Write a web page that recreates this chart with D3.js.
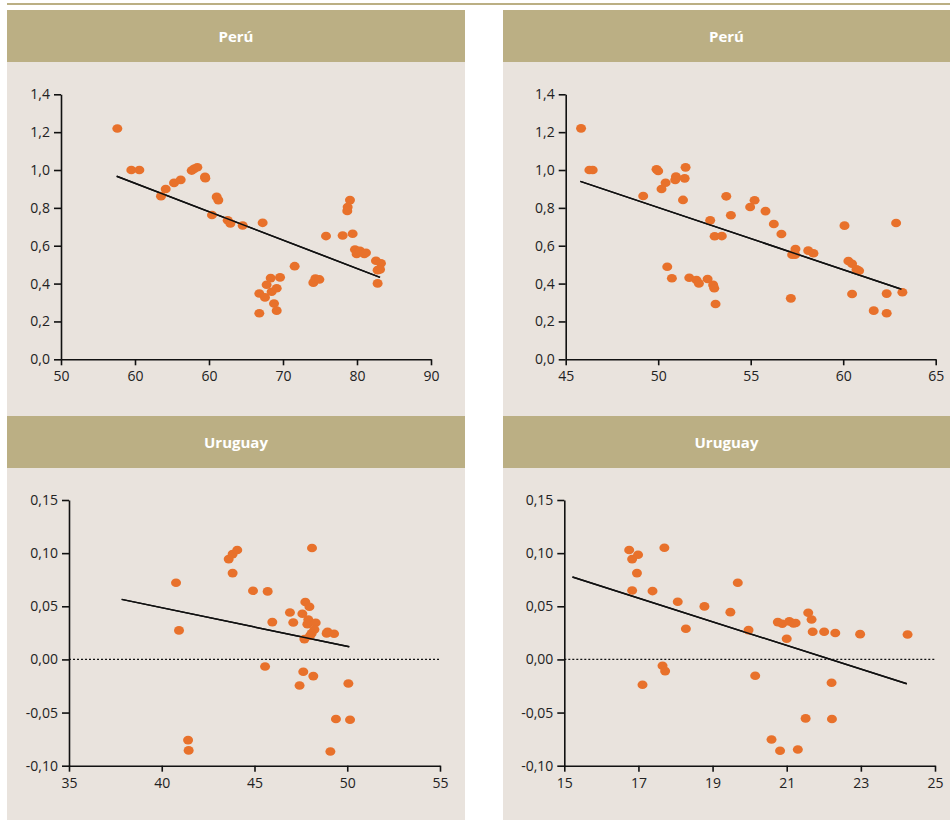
<!DOCTYPE html>
<html>
<head>
<meta charset="utf-8">
<script src="https://cdn.jsdelivr.net/npm/d3@7"></script>
<style>
  html, body { margin: 0; padding: 0; background: #ffffff; }
  svg { display: block; }
  .tick text { font-family: "Open Sans", "Noto Sans", sans-serif; font-size: 14px; fill: #222; }
</style>
</head>
<body>
<svg id="chart" width="950" height="820"></svg>
<script>
// ---- Data ----------------------------------------------------------------
const titles = ["Perú", "Perú", "Uruguay", "Uruguay"];

// Perú, left panel
const peruA_x = [56.09, 57.60, 58.47, 60.81, 61.32, 62.22, 62.94, 64.13, 64.38, 64.74,
  65.57, 65.60, 66.83, 67.01, 66.32, 68.02, 68.31, 69.64, 71.80, 71.44,
  71.44, 72.05, 72.23, 72.67, 72.77, 73.32, 73.68, 73.03, 73.32, 75.26,
  77.28, 77.50, 77.93, 78.65, 80.45, 81.53, 81.24, 80.99, 80.95, 81.78,
  81.96, 82.32, 82.97, 82.79, 84.05, 84.59, 84.23, 84.49, 84.23];
const peruA_y = [1.219, 1.000, 1.000, 0.862, 0.900, 0.932, 0.948, 0.997, 1.006, 1.015,
  0.964, 0.957, 0.858, 0.841, 0.762, 0.735, 0.718, 0.707, 0.721, 0.243,
  0.348, 0.327, 0.394, 0.429, 0.357, 0.375, 0.433, 0.295, 0.257, 0.492,
  0.405, 0.427, 0.422, 0.651, 0.654, 0.663, 0.841, 0.805, 0.784, 0.580,
  0.556, 0.573, 0.563, 0.556, 0.521, 0.507, 0.471, 0.475, 0.401];
const peruA_trend = [[56.02, 0.967], [84.49, 0.433]];

// Perú, right panel
const peruB_x = [45.83, 46.28, 46.46, 49.19, 49.91, 50.00, 50.18, 50.40, 50.96, 50.92,
  51.48, 51.43, 51.34, 50.49, 50.74, 51.68, 52.07, 52.20, 52.67, 52.97,
  53.03, 53.10, 52.81, 53.05, 53.44, 53.68, 53.93, 54.97, 55.21, 55.80,
  56.25, 56.66, 57.17, 57.24, 57.40, 57.42, 58.11, 58.39, 60.07, 60.28,
  60.48, 60.48, 60.72, 60.86, 61.65, 62.35, 62.35, 62.86, 63.20];
const peruB_y = [1.220, 1.000, 1.000, 0.863, 1.004, 0.995, 0.900, 0.933, 0.965, 0.947,
  1.014, 0.956, 0.842, 0.489, 0.428, 0.431, 0.419, 0.401, 0.424, 0.393,
  0.375, 0.292, 0.734, 0.650, 0.651, 0.861, 0.761, 0.805, 0.840, 0.783,
  0.715, 0.662, 0.322, 0.553, 0.553, 0.583, 0.574, 0.560, 0.706, 0.519,
  0.505, 0.345, 0.475, 0.468, 0.257, 0.347, 0.243, 0.720, 0.354];
const peruB_trend = [[45.79, 0.940], [63.15, 0.370]];

// Uruguay, left panel
const urA_x = [40.77, 40.93, 41.42, 41.45, 43.61, 43.82, 44.07, 43.82, 44.92, 45.71,
  45.96, 45.57, 46.91, 47.09, 47.43, 47.58, 47.63, 47.74, 47.96, 47.69,
  47.90, 47.85, 48.10, 48.17, 48.30, 48.23, 48.08, 47.99, 48.89, 48.94,
  49.29, 49.09, 49.39, 50.15, 50.06];
const urA_y = [0.0721, 0.0273, -0.0759, -0.0856, 0.0944, 0.0991, 0.1029, 0.0812, 0.0646, 0.0640,
  0.0351, -0.0066, 0.0442, 0.0348, -0.0245, 0.0430, -0.0116, 0.0540, 0.0496, 0.0191,
  0.0376, 0.0332, 0.1048, -0.0157, 0.0345, 0.0282, 0.0245, 0.0223, 0.0245, 0.0260,
  0.0242, -0.0866, -0.0561, -0.0568, -0.0226];
const urA_trend = [[37.84, 0.0565], [50.11, 0.0119]];

// Uruguay, right panel
const urB_x = [16.75, 16.83, 16.99, 16.96, 16.83, 17.11, 17.38, 17.70, 17.65, 17.72,
  18.06, 18.28, 18.78, 19.48, 19.68, 19.97, 20.15, 20.59, 20.82, 20.76,
  20.88, 21.00, 21.07, 21.18, 21.24, 21.30, 21.51, 21.58, 21.67, 21.70,
  22.01, 22.21, 22.22, 22.31, 22.98, 24.26];
const urB_y = [0.1029, 0.0944, 0.0985, 0.0812, 0.0649, -0.0238, 0.0643, 0.1051, -0.0060, -0.0110,
  0.0543, 0.0289, 0.0499, 0.0445, 0.0721, 0.0276, -0.0154, -0.0753, -0.0859, 0.0351,
  0.0336, 0.0194, 0.0358, 0.0339, 0.0342, -0.0847, -0.0555, 0.0439, 0.0376, 0.0260,
  0.0260, -0.0220, -0.0561, 0.0248, 0.0238, 0.0235];
const urB_trend = [[15.22, 0.0775], [24.24, -0.0229]];

// Axis ticks and their labels
const peruA_xTicks = [50, 58, 66, 74, 82, 90];
const peruA_xLabels = ["50", "60", "60", "70", "80", "90"];
const peruB_xTicks = [45, 50, 55, 60, 65];
const peruB_xLabels = ["45", "50", "55", "60", "65"];
const urA_xTicks = [35, 40, 45, 50, 55];
const urA_xLabels = ["35", "40", "45", "50", "55"];
const urB_xTicks = [15, 17, 19, 21, 23, 25];
const urB_xLabels = ["15", "17", "19", "21", "23", "25"];
const peru_yTicks = [0, 0.2, 0.4, 0.6, 0.8, 1.0, 1.2, 1.4];
const peru_yLabels = ["0,0", "0,2", "0,4", "0,6", "0,8", "1,0", "1,2", "1,4"];
const ur_yTicks = [-0.10, -0.05, 0, 0.05, 0.10, 0.15];
const ur_yLabels = ["-0,10", "-0,05", "0,00", "0,05", "0,10", "0,15"];

// ---- Layout ----------------------------------------------------------------
const HEADER = "#bbaf84";
const PANEL_BG = "#e9e3dd";
const DOT = "#e8712b";

const panels = [
  { title: titles[0], xs: peruA_x, ys: peruA_y, trend: peruA_trend,
    xTicks: peruA_xTicks, xLabels: peruA_xLabels, yTicks: peru_yTicks, yLabels: peru_yLabels,
    xDom: [50, 90], yDom: [0, 1.4], box: [7, 10, 458, 406], xr: [61, 431], yr: [359.3, 94.3], zero: false },
  { title: titles[1], xs: peruB_x, ys: peruB_y, trend: peruB_trend,
    xTicks: peruB_xTicks, xLabels: peruB_xLabels, yTicks: peru_yTicks, yLabels: peru_yLabels,
    xDom: [45, 65], yDom: [0, 1.4], box: [503, 10, 447, 406], xr: [565.7, 935.7], yr: [359.3, 94.3], zero: false },
  { title: titles[2], xs: urA_x, ys: urA_y, trend: urA_trend,
    xTicks: urA_xTicks, xLabels: urA_xLabels, yTicks: ur_yTicks, yLabels: ur_yLabels,
    xDom: [35, 55], yDom: [-0.10, 0.15], box: [7, 416, 458, 404], xr: [69, 440], yr: [765.7, 500], zero: true },
  { title: titles[3], xs: urB_x, ys: urB_y, trend: urB_trend,
    xTicks: urB_xTicks, xLabels: urB_xLabels, yTicks: ur_yTicks, yLabels: ur_yLabels,
    xDom: [15, 25], yDom: [-0.10, 0.15], box: [503, 416, 447, 404], xr: [564.3, 935], yr: [765.7, 500], zero: true }
];

const svg = d3.select("#chart");

// thin rule across the top
svg.append("rect").attr("x", 7).attr("y", 3).attr("width", 943).attr("height", 2).attr("fill", HEADER);

panels.forEach(p => {
  const [bx, by, bw, bh] = p.box;
  const g = svg.append("g");

  // panel background and header band
  g.append("rect").attr("x", bx).attr("y", by).attr("width", bw).attr("height", bh).attr("fill", PANEL_BG);
  g.append("rect").attr("x", bx).attr("y", by).attr("width", bw).attr("height", 52).attr("fill", HEADER);
  g.append("text")
    .attr("x", bx + bw / 2).attr("y", by + 26)
    .attr("text-anchor", "middle").attr("dominant-baseline", "central")
    .attr("font-family", "'Open Sans', 'Noto Sans', sans-serif")
    .attr("font-size", 15).attr("font-weight", 700).attr("fill", "#ffffff")
    .text(p.title);

  const x = d3.scaleLinear().domain(p.xDom).range(p.xr);
  const y = d3.scaleLinear().domain(p.yDom).range(p.yr);

  // axes
  const xAxis = d3.axisBottom(x).tickValues(p.xTicks).tickSize(6).tickSizeOuter(0).tickPadding(4)
    .tickFormat((d, i) => p.xLabels[i]);
  const yAxis = d3.axisLeft(y).tickValues(p.yTicks).tickSize(7).tickSizeOuter(0).tickPadding(4)
    .tickFormat((d, i) => p.yLabels[i]);

  const gx = g.append("g").attr("transform", `translate(0,${p.yr[0]})`).call(xAxis);
  const gy = g.append("g").attr("transform", `translate(${p.xr[0]},0)`).call(yAxis);
  [gx, gy].forEach(a => {
    a.selectAll("path.domain").attr("stroke", "#111").attr("stroke-width", 1.6);
    a.selectAll(".tick line").attr("stroke", "#111").attr("stroke-width", 1.6);
  });
  gx.selectAll(".tick text").attr("dy", "0.85em");

  // zero reference line
  if (p.zero) {
    g.append("line")
      .attr("x1", p.xr[0]).attr("x2", p.xr[1])
      .attr("y1", y(0)).attr("y2", y(0))
      .attr("stroke", "#111").attr("stroke-width", 1.3).attr("stroke-dasharray", "2,2");
  }

  // trend line
  g.append("line")
    .attr("x1", x(p.trend[0][0])).attr("y1", y(p.trend[0][1]))
    .attr("x2", x(p.trend[1][0])).attr("y2", y(p.trend[1][1]))
    .attr("stroke", "#111").attr("stroke-width", 1.5);

  // points
  const pts = p.xs.map((v, i) => ({ x: v, y: p.ys[i] }));
  g.append("g").selectAll("ellipse").data(pts).join("ellipse")
    .attr("cx", d => x(d.x)).attr("cy", d => y(d.y))
    .attr("rx", 5).attr("ry", 4.3)
    .attr("fill", DOT);

  // redraw the trend line over the points
  g.append("line")
    .attr("x1", x(p.trend[0][0])).attr("y1", y(p.trend[0][1]))
    .attr("x2", x(p.trend[1][0])).attr("y2", y(p.trend[1][1]))
    .attr("stroke", "#111").attr("stroke-width", 1.5);
});
</script>
</body>
</html>
